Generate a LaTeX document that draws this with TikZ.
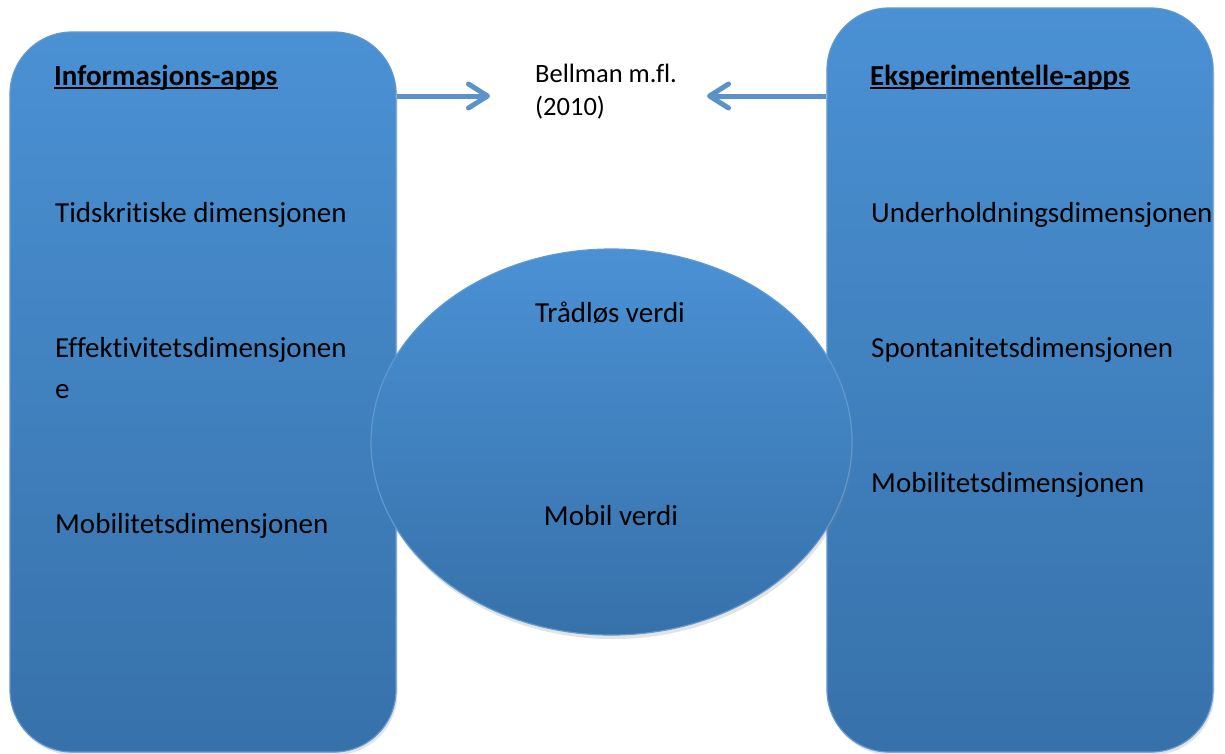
\documentclass[tikz,border=0pt]{standalone}
\usepackage{fontspec}
\setmainfont[Ligatures={TeX,NoCommon}]{Carlito}
\usetikzlibrary{shapes.geometric,arrows.meta,shadows}
\definecolor{boxtop}{RGB}{74,145,212}
\definecolor{boxbot}{RGB}{55,113,170}
\definecolor{edgeblue}{RGB}{96,152,208}
\definecolor{arrowblue}{RGB}{91,147,200}
\begin{document}
\begin{tikzpicture}[x=1pt,y=-1pt,
  panel/.style={rectangle, rounded corners=62pt, top color=boxtop, bottom color=boxbot,
    draw=edgeblue, line width=1.2pt, inner sep=0pt,
    drop shadow={opacity=0.22, shadow xshift=1.5pt, shadow yshift=-3pt}},
  oval/.style={ellipse, top color=boxtop, bottom color=boxbot,
    draw=edgeblue, line width=1.2pt, inner sep=0pt,
    drop shadow={opacity=0.22, shadow xshift=1.5pt, shadow yshift=-4pt}},
  txt/.style={anchor=base west, inner sep=0pt, font=\fontsize{29}{35}\selectfont},
  head/.style={txt, font=\fontsize{29}{35}\selectfont\bfseries},
  midtxt/.style={anchor=base, inner sep=0pt, font=\fontsize{29}{35}\selectfont},
  ref/.style={anchor=base west, inner sep=0pt, font=\fontsize{26.5}{32}\selectfont},
  conn/.style={draw=arrowblue, line width=5pt, -{Straight Barb[length=19pt, width=24pt, round]}},
  uline/.style={line width=1.4pt}
]
\useasboundingbox[fill=white] (0,0) rectangle (1225,753);

\node[panel, minimum width=386pt, minimum height=720pt] (L) at (203,392) {};
\node[panel, minimum width=386pt, minimum height=744pt] (R) at (1020,380) {};
\node[oval, minimum width=481pt, minimum height=386pt] (E) at (611.5,442) {};

% left panel texts
\node[head] (h1) at (54,85) {Informasjons-apps};
\draw[uline] ([yshift=-3pt]h1.base west) -- ([yshift=-3pt]h1.base east);
\node[txt] (l1) at (55,222) {Tidskritiske dimensjonen};
\node[txt] (l2) at (55,357) {Effektivitetsdimensjonen};
\node[txt] (l2b) at (55,398) {e};
\node[txt] (l3) at (55,533) {Mobilitetsdimensjonen};

% right panel texts
\node[head] (h2) at (870,85) {Eksperimentelle-apps};
\draw[uline] ([yshift=-3pt]h2.base west) -- ([yshift=-3pt]h2.base east);
\node[txt] (r1) at (871,222) {Underholdningsdimensjonen};
\node[txt] (r2) at (871,357) {Spontanitetsdimensjonen};
\node[txt] (r3) at (871,492) {Mobilitetsdimensjonen};

% ellipse texts
\node[midtxt] (e1) at (610,322) {Trådløs verdi};
\node[midtxt] (e2) at (611,525) {Mobil verdi};

% reference
\node[ref] (b1) at (535,82) {Bellman m.fl.};
\node[ref] (b2) at (535,115) {(2010)};

% arrows
\coordinate (lt) at (490,96);
\coordinate (rt) at (707,96);
\draw[conn] (L.east |- lt) -- (lt);
\draw[conn] (R.west |- rt) -- (rt);
\end{tikzpicture}
\end{document}
